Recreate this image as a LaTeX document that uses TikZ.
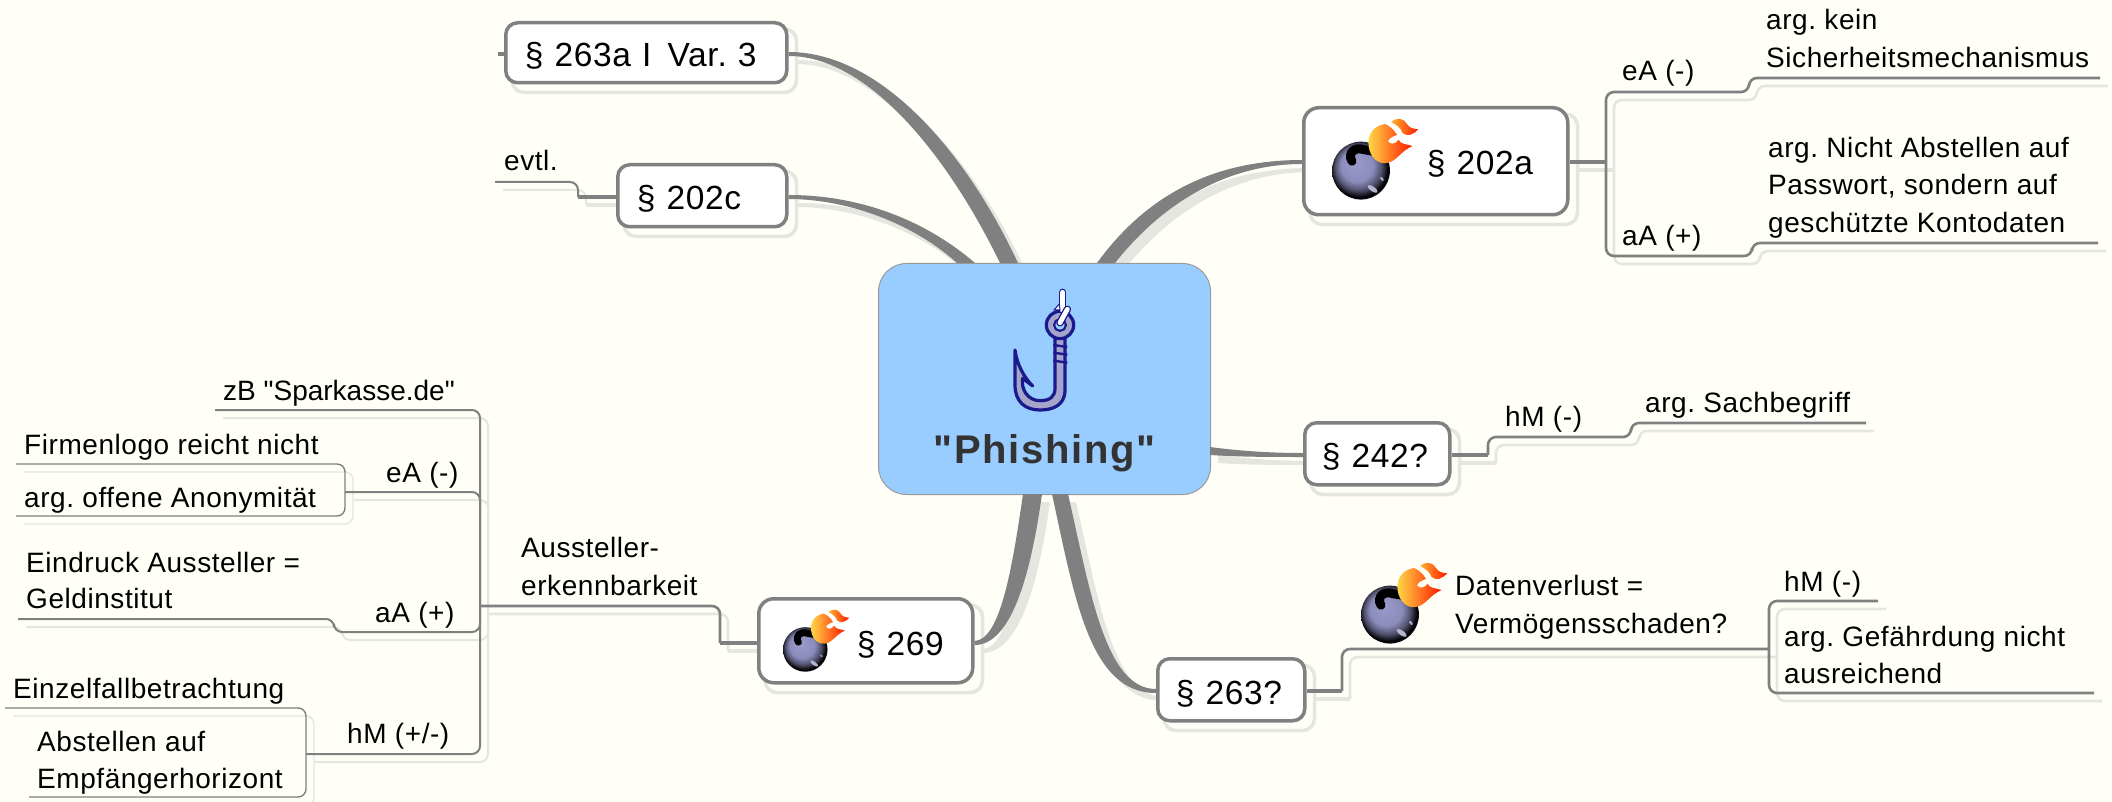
\documentclass[tikz,border=0pt]{standalone}
\usepackage{fontspec}
\setmainfont{Liberation Sans}[Ligatures=TeXOff,LetterSpace=2.0]
\usetikzlibrary{calc}
\pgfdeclarelayer{bg}
\pgfsetlayers{bg,main}
\definecolor{paper}{HTML}{FFFFF8}
\definecolor{lnk}{HTML}{808080}
\definecolor{shd}{HTML}{E6E6E0}
\definecolor{navy}{HTML}{1A1A8C}
\definecolor{hookf}{HTML}{A5A5CC}
\definecolor{bombA}{HTML}{9C9CCC}
\definecolor{bombB}{HTML}{8C8CBC}
\definecolor{bombC}{HTML}{50506C}
\definecolor{bombD}{HTML}{30305C}
\definecolor{bombE}{HTML}{6A6AA4}
\definecolor{flameY}{HTML}{FFDC4A}
\definecolor{flameO}{HTML}{FFB030}
\definecolor{flameR}{HTML}{FF1800}
\pgfdeclareradialshading{bombshade}{\pgfpoint{-6bp}{7.5bp}}{
 color(0bp)=(bombA);color(14bp)=(bombB);color(20bp)=(bombC);color(25bp)=(black);color(29bp)=(bombD);color(34bp)=(bombE)}
\tikzset{
 mmbox/.style={draw=lnk,line width=3.5pt,fill=white,rounded corners=12pt,inner sep=0pt,anchor=north west,align=left,font=\fontsize{33.5}{38}\selectfont},
 lbl/.style={inner sep=0pt,anchor=base west,align=left,font=\fontsize{28}{37.5}\selectfont},
 stem/.style={line width=4pt,draw=lnk},
 lA/.style={line width=2.6pt,draw=lnk,rounded corners=8pt},
 lC/.style={line width=2pt,draw=lnk,rounded corners=8pt},
 lB/.style={line width=1.4pt,draw=lnk,rounded corners=8pt},
}
\newcommand\lk[2]{%
 \begin{pgfonlayer}{bg}\draw[#1,draw=shd,transform canvas={xshift=8pt,yshift=-8pt}] #2;\end{pgfonlayer}
 \draw[#1] #2;}
\newcommand\tp[1]{%
 \begin{pgfonlayer}{bg}\fill[shd,transform canvas={xshift=8pt,yshift=-8pt}] #1;\end{pgfonlayer}
 \fill[lnk] #1;}
\newcommand\bsh[1]{%
 \begin{pgfonlayer}{bg}\draw[shd,line width=3.5pt,rounded corners=12pt,transform canvas={xshift=8pt,yshift=-8pt}] (#1.north west) rectangle (#1.south east);\end{pgfonlayer}}
% bomb, local coordinates: 259 x 245 units
\newcommand\bomb[3]{%
\begin{scope}[shift={(#1,#2)},scale=#3]
 \shade[shading=bombshade] (87,158) circle[radius=87];
 \fill[bombE!50!white,rotate around={-35:(122,213)}] (122,213) ellipse[x radius=18,y radius=7];
 \fill[bombE!60!white,rotate around={-50:(150,183)}] (150,183) ellipse[x radius=7,y radius=4];
 \draw[black,line width=#3*27pt,line cap=round] (60,130) .. controls (45,105) and (70,85) .. (95,95) -- (125,100);
 \shade[left color=flameY,middle color=flameO,right color=flameR,shading angle=90]
  (160,18) .. controls (125,22) and (105,50) .. (110,85) .. controls (115,120) and (140,140) .. (165,135)
  .. controls (195,130) and (205,100) .. (242,84) .. controls (220,78) and (205,78) .. (200,65)
  .. controls (190,80) and (175,80) .. (168,70) .. controls (175,55) and (190,55) .. (195,50)
  .. controls (185,35) and (175,25) .. (160,18) -- cycle;
 \shade[left color=flameO,right color=flameR]
  (178,12) .. controls (195,-3) and (215,0) .. (225,18) .. controls (232,30) and (245,33) .. (259,34)
  .. controls (245,50) and (225,58) .. (212,45) .. controls (205,28) and (195,22) .. (178,12) -- cycle;
\end{scope}}
\begin{document}
\frenchspacing
\begin{tikzpicture}[x=1pt,y=-1pt]
\begin{pgfonlayer}{bg}
\fill[paper] (0,0) rectangle (2112,802);
\end{pgfonlayer}
\useasboundingbox (0,0) rectangle (2112,802);
% boxes
\node[draw=black!40,line width=1pt,fill={rgb,255:red,153;green,204;blue,255},rounded corners=28pt,inner sep=0pt,anchor=north west,align=center,text width=332pt,text height=200pt,text depth=31pt,text={rgb,255:red,51;green,51;blue,51},font=\fontsize{40}{46}\selectfont\bfseries\addfontfeature{LetterSpace=4}] (c) at (878,263) {"Phishing"};
\node[mmbox,text width=281pt,text height=44pt,text depth=16pt] (n263a) at (504,21) {\hspace*{19pt}§ 263a I\kern5pt{} Var. 3};
\node[mmbox,text width=169pt,text height=45pt,text depth=17pt] (n202c) at (616,163) {\hspace*{19pt}§ 202c};
\node[mmbox,rounded corners=15pt,text width=264pt,text height=67pt,text depth=40pt] (n202a) at (1302,106) {\hspace*{123pt}§ 202a};
\node[mmbox,text width=145pt,text height=45pt,text depth=17pt] (n242) at (1303,421) {\hspace*{17pt}§ 242?};
\node[mmbox,text width=147pt,text height=46pt,text depth=16pt] (n263) at (1156,657) {\hspace*{18pt}§ 263?};
\node[mmbox,rounded corners=15pt,text width=214pt,text height=57pt,text depth=27pt] (n269) at (757,597) {\hspace*{98pt}§ 269};
\bsh{n263a}\bsh{n202c}\bsh{n202a}\bsh{n242}\bsh{n263}\bsh{n269}
% bombs
\bomb{1332}{118}{0.333}
\bomb{1361}{562}{0.333}
\bomb{783}{609}{0.256}
% hook
\begin{scope}[shift={(850,230)},scale=1/3]
 \draw[navy,line width=3.2pt,fill=hookf,line join=round]
  (645,320) -- (645,480) .. controls (645,525) and (610,540) .. (570,540) .. controls (525,540) and (495,515) .. (495,465) -- (495,360)
  .. controls (500,400) and (520,440) .. (548,468) -- (518,445) .. controls (512,480) and (535,512) .. (570,512) .. controls (600,512) and (615,500) .. (615,475) -- (615,320) -- cycle;
 \draw[navy,line width=3.2pt,even odd rule,fill=hookf] (630,285) circle[radius=41] (630,285) circle[radius=16];
 \fill[fill={rgb,255:red,153;green,204;blue,255}] (630,285) circle[radius=14];
 \foreach \yy in {345,368,392}{\draw[navy,line width=2.4pt] (610,\yy) -- (652,\yy+6);}
 \draw[navy,line width=7.5pt,line cap=round] (638,187) -- (638,240);
 \draw[white,line width=4.8pt,line cap=round] (638,187) -- (638,240);
 \fill[white,draw=navy,line width=1pt] (628,222) -- (612,240) -- (630,240) -- cycle;
 \draw[navy,line width=7.5pt,line cap=round] (652,238) -- (630,278);
 \draw[white,line width=4.8pt,line cap=round] (652,238) -- (630,278);
\end{scope}
% coordinates
\coordinate (c1a) at (1000,263); \coordinate (c1b) at (1018,263);
\coordinate (c2a) at (957,263);  \coordinate (c2b) at (975,263);
\coordinate (c3a) at (1097,263); \coordinate (c3b) at (1115,263);
\coordinate (c4a) at (1210,447); \coordinate (c4b) at (1210,455);
\coordinate (c5a) at (1023,494); \coordinate (c5b) at (1042,494);
\coordinate (c6a) at (1052,494); \coordinate (c6b) at (1068,494);
% tapered main branches
\tp{(n263a.east |- 0,52) .. controls (880,52) and (965,150) .. (c1b) -- (c1a) .. controls (950,160) and (870,56) .. (n263a.east |- 0,56) -- cycle}
\tp{(n202c.east |- 0,195) .. controls (860,195) and (925,220) .. (c2b) -- (c2a) .. controls (915,225) and (850,199) .. (n202c.east |- 0,199) -- cycle}
\tp{(c3a) .. controls (1150,190) and (1220,160) .. (n202a.west |- 0,160) -- (n202a.west |- 0,164) .. controls (1230,164) and (1165,200) .. (c3b) -- cycle}
\tp{(c4a) .. controls (1240,451) and (1270,453) .. (n242.west |- 0,453) -- (n242.west |- 0,457) .. controls (1270,457) and (1240,457) .. (c4b) -- cycle}
\tp{(c5b) .. controls (1030,580) and (1010,645) .. (n269.east |- 0,645) -- (n269.east |- 0,641) .. controls (1000,640) and (1012,570) .. (c5a) -- cycle}
\tp{(c6a) .. controls (1075,600) and (1090,693) .. (n263.west |- 0,693) -- (n263.west |- 0,689) .. controls (1105,689) and (1090,590) .. (c6b) -- cycle}
% free-end coordinates
\coordinate (st) at (498,54);
\coordinate (k1) at (578,197); \coordinate (k2) at (495,182);
\coordinate (ba) at (1606,162); \coordinate (ra1) at (1749,92); \coordinate (ra2) at (2100,78);
\coordinate (rb1) at (1752,256); \coordinate (rb2) at (2098,243);
\coordinate (j242) at (1488,455); \coordinate (s1) at (1631,437); \coordinate (s2) at (1866,423);
\coordinate (j263) at (1342,691); \coordinate (t1) at (1769,649); \coordinate (t2) at (1878,601); \coordinate (t3) at (2094,693);
\coordinate (j269) at (720,643); \coordinate (brL) at (480,606);
\coordinate (lz) at (215,410); \coordinate (jE) at (345,492); \coordinate (jA1) at (334,632); \coordinate (jA2) at (18,619); \coordinate (jH) at (306,754);
\coordinate (e1) at (16,464); \coordinate (e2) at (16,516); \coordinate (h1) at (5,708); \coordinate (h2) at (29,797);
% stems
\lk{stem}{(n263a.west |- st) -- (st)}
\lk{stem}{(n202c.west |- k1) -- (k1)}
\lk{stem}{(n202a.east |- ba) -- (ba)}
\lk{stem}{(n242.east |- j242) -- (j242)}
\lk{stem}{(n263.east |- j263) -- (j263)}
\lk{stem}{(n269.west |- j269) -- (j269)}
% lines
\lk{lC}{(k1) |- (k2)}
\lk{lA}{(ba) |- (ra1) |- (ra2)}
\lk{lA}{(ba) |- (rb1) |- (rb2)}
\lk{lA}{(j242) |- (s1) |- (s2)}
\lk{lA}{(j263) |- (t1)}
\lk{lA}{(t1) |- (t2)}
\lk{lA}{(t1) |- (t3)}
\lk{lA}{(j269) |- (brL)}
\lk{lC}{(lz) -| (brL)}
\lk{lC}{(jE) -| (brL)}
\lk{lC}{(jA2) -| (jA1) -| (brL)}
\lk{lC}{(jH) -| (brL)}
\lk{lB}{(e1) -| (jE)}
\lk{lB}{(e2) -| (jE)}
\lk{lB}{(h1) -| (jH)}
\lk{lB}{(h2) -| (jH)}
% labels
\node[lbl] (tEv) at (504,171) {evtl.};
\node[lbl] (tA1) at (1622,81) {eA (-)};
\node[lbl] (tA2) at (1622,246) {aA (+)};
\node[lbl] (tK1) at (1766,30) {arg. kein};
\node[lbl] (tK2) at (1766,68) {Sicherheitsmechanismus};
\node[lbl] (tN1) at (1768,158) {arg. Nicht Abstellen auf};
\node[lbl] (tN2) at (1768,195) {Passwort, sondern auf};
\node[lbl] (tN3) at (1768,233) {geschützte Kontodaten};
\node[lbl] (tH) at (1505,426) {hM (-)};
\node[lbl] (tS) at (1645,412) {arg. Sachbegriff};
\node[lbl] (tD1) at (1455,595) {Datenverlust =};
\node[lbl] (tD2) at (1455,633) {Vermögensschaden?};
\node[lbl] (tH2) at (1784,591) {hM (-)};
\node[lbl] (tG1) at (1784,646) {arg. Gefährdung nicht};
\node[lbl] (tG2) at (1784,683) {ausreichend};
\node[lbl] (tAu1) at (521,557) {Aussteller-};
\node[lbl] (tAu2) at (521,595) {erkennbarkeit};
\node[lbl,font=\fontsize{28}{37.5}\selectfont\addfontfeature{LetterSpace=0}] (tZ) at (223,400) {zB "Sparkasse.de"};
\node[lbl] (tE) at (386,482) {eA (-)};
\node[lbl] (tF) at (24,454) {Firmenlogo reicht nicht};
\node[lbl] (tO) at (24,507) {arg. offene Anonymität};
\node[lbl] (tI1) at (26,572) {Eindruck Aussteller =};
\node[lbl] (tI2) at (26,608) {Geldinstitut};
\node[lbl] (tAa) at (375,622) {aA (+)};
\node[lbl] (tEi) at (13,698) {Einzelfallbetrachtung};
\node[lbl] (tHp) at (347,743) {hM (+/-)};
\node[lbl] (tAb) at (37,751) {Abstellen auf};
\node[lbl] (tEm) at (37,788) {Empfängerhorizont};
\end{tikzpicture}
\end{document}
